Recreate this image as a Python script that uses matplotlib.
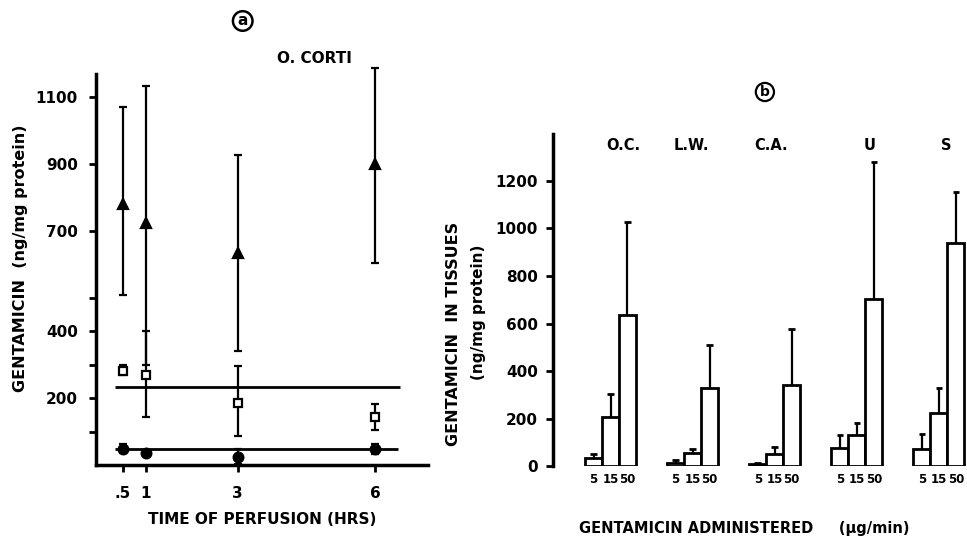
import numpy as np
import matplotlib
matplotlib.use('Agg')
import matplotlib.pyplot as plt

plt.rcParams['font.family'] = ['DejaVu Sans']
plt.rcParams['font.weight'] = 'bold'

# Panel a : organ of Corti, time course
temps = [0.5, 1, 3, 6]
tri_moy = [780, 725, 635, 900]
tri_bas = [510, 300, 340, 605]
tri_haut = [1070, 1135, 928, 1188]
car_moy = [282, 270, 185, 145]
car_bas = [270, 143, 88, 104]
car_haut = [298, 400, 295, 183]
rond_moy = [48, 36, 24, 48]
rond_bas = [35, 30, 2, 32]
rond_haut = [62, 42, 48, 64]
ligne_haut = 233
ligne_bas = 48
ticks_a = [100, 200, 300, 400, 500, 700, 900, 1100]
labels_a = ['', '200', '', '400', '', '700', '900', '1100']

# Panel b : tissues vs dose
tissus = ['O.C.', 'L.W.', 'C.A.', 'U', 'S']
doses = ['5', '15', '50']
moyennes = [[35, 205, 635],
            [12, 54, 330],
            [8, 50, 342],
            [75, 132, 703],
            [72, 222, 940]]
erreurs_haut = [[50, 305, 1028],
                [25, 73, 508],
                [12, 78, 578],
                [130, 182, 1278],
                [135, 328, 1153]]

fig = plt.figure(figsize=(9.67, 5.38), dpi=100)

# ---------- panel a ----------
ax = fig.add_axes([0.0993, 0.1357, 0.3433, 0.7268])
ax.set_xlim(-0.09, 7.16)
ax.set_ylim(0, 1170)

def barres(x, moy, bas, haut, marker, fc, ms):
    err = [np.array(moy) - np.array(bas), np.array(haut) - np.array(moy)]
    ax.errorbar(x, moy, yerr=err, fmt=marker, color='black', mfc=fc, mec='black',
                ms=ms, mew=1.6, elinewidth=1.6, capsize=3, capthick=2, zorder=3,
                clip_on=False)

barres(temps, tri_moy, tri_bas, tri_haut, '^', 'black', 7)
barres(temps, car_moy, car_bas, car_haut, 's', 'white', 6)
barres(temps, rond_moy, rond_bas, rond_haut, 'o', 'black', 7)

ax.hlines(ligne_haut, 0.32, 6.55, color='black', lw=2)
ax.hlines(ligne_bas, 0.32, 6.5, color='black', lw=2)

for s in ['top', 'right']:
    ax.spines[s].set_visible(False)
ax.spines['left'].set_linewidth(2.5)
ax.spines['bottom'].set_linewidth(2.5)
ax.set_yticks(ticks_a)
ax.set_yticklabels(labels_a)
ax.set_xticks(temps)
ax.set_xticklabels(['.5', '1', '3', '6'])
ax.tick_params(axis='both', direction='out', length=5, width=2, labelsize=11, pad=8)
ax.tick_params(axis='x', pad=10)
ax.set_xlabel('TIME OF PERFUSION (HRS)', fontsize=11, fontweight='bold', labelpad=8)
fig.text(0.021, 0.52, 'GENTAMICIN  (ng/mg protein)', rotation=90, ha='center', va='center',
         fontsize=11.5, fontweight='bold')
fig.text(0.325, 0.892, 'O. CORTI', ha='center', va='center', fontsize=11, fontweight='bold')
fig.text(0.251, 0.961, 'a', ha='center', va='center', fontsize=11, fontweight='bold',
         bbox=dict(boxstyle='circle,pad=0.15', fc='white', ec='black', lw=1.8))

# ---------- panel b ----------
bx = fig.add_axes([0.5719, 0.1338, 0.4271, 0.6172])
bx.set_xlim(-0.70, 4.33)
bx.set_ylim(0, 1398)
largeur = 0.207
decalage = [-largeur, 0, largeur]
decalage_nom = [0.15, -0.01, -0.05, 0.15, 0.09]
for i in range(len(tissus)):
    for j in range(len(doses)):
        x = i + decalage[j]
        bx.bar(x, moyennes[i][j], largeur, color='white', edgecolor='black', lw=2, zorder=2)
        bx.vlines(x, moyennes[i][j], erreurs_haut[i][j], color='black', lw=1.6, zorder=1)
        bx.hlines(erreurs_haut[i][j], x - 0.04, x + 0.04, color='black', lw=2)
        bx.text(x, -55, doses[j], ha='center', va='center', fontsize=8.5, fontweight='bold')
    bx.text(i + decalage_nom[i], 1350, tissus[i], ha='center', va='center',
            fontsize=10.5, fontweight='bold')

for s in ['top', 'right', 'bottom']:
    bx.spines[s].set_visible(False)
bx.spines['left'].set_linewidth(2.5)
bx.set_xticks([])
bx.set_yticks([0, 200, 400, 600, 800, 1000, 1200])
bx.tick_params(axis='y', direction='out', length=5, width=2, labelsize=11, pad=6)
fig.text(0.469, 0.379, 'GENTAMICIN  IN TISSUES', rotation=90, ha='center', va='center',
         fontsize=11.5, fontweight='bold')
fig.text(0.495, 0.42, '(ng/mg protein)', rotation=90, ha='center', va='center',
         fontsize=11, fontweight='bold')
fig.text(0.77, 0.018, 'GENTAMICIN ADMINISTERED     (\u03bcg/min)', ha='center', va='center',
         fontsize=10.5, fontweight='bold')
fig.text(0.791, 0.829, 'b', ha='center', va='center', fontsize=10, fontweight='bold',
         bbox=dict(boxstyle='circle,pad=0.15', fc='white', ec='black', lw=1.6))

fig.savefig('out.png', dpi=100)
